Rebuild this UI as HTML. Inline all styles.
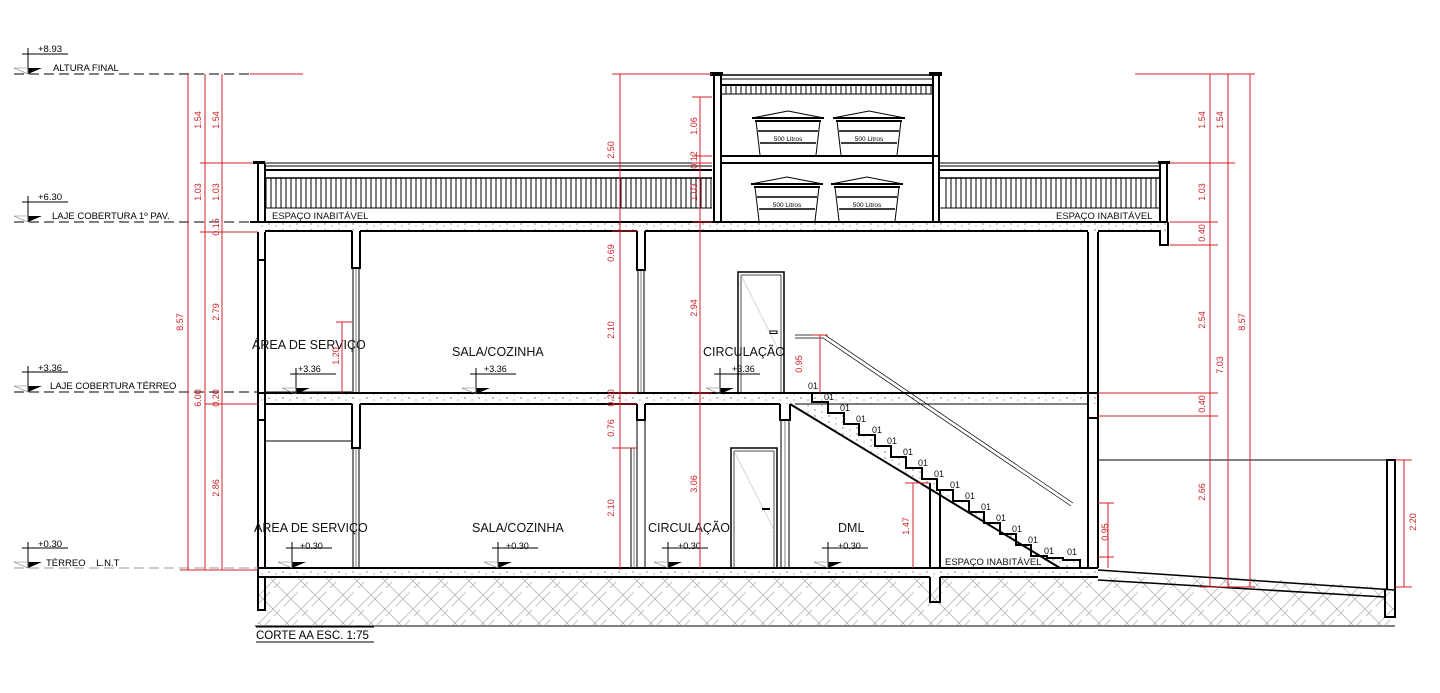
<!DOCTYPE html>
<html><head><meta charset="utf-8"><style>
html,body{margin:0;padding:0;background:#fff;}
svg{display:block;font-family:"Liberation Sans",sans-serif;}
.r{fill:#d0202a;font-size:9px;}
.rl{stroke:#d0202a;stroke-width:1;fill:none;}
.k{stroke:#000;fill:none;}
.t{font-size:12.5px;fill:#111;}
.s{font-size:9px;fill:#111;}
</style></head><body>
<svg width="1440" height="693" viewBox="0 0 1440 693" xmlns="http://www.w3.org/2000/svg">
<defs>
<pattern id="vh" width="5" height="40" patternUnits="userSpaceOnUse"><line x1="1" y1="0" x2="1" y2="40" stroke="#000" stroke-width="1"/></pattern>
<pattern id="gh" width="28" height="28" patternUnits="userSpaceOnUse">
<path d="M0 14 L14 0 M4 18 L18 4 M14 28 L28 14 M18 32 L32 18 M14 14 L28 28 M0 0 L14 14" stroke="#aaa" stroke-width="0.7" fill="none"/></pattern>
<pattern id="dots" width="14" height="6" patternUnits="userSpaceOnUse"><circle cx="3" cy="2" r="0.6" fill="#333"/><circle cx="10" cy="4" r="0.5" fill="#333"/></pattern>
</defs>

<!-- ground -->
<rect x="258" y="577" width="1137" height="48" fill="url(#gh)"/>
<polygon points="1098,568 1398,588 1398,560 1098,560" fill="#fff"/>
<line x1="255" y1="626" x2="1395" y2="626" stroke="#000"/>
<!-- ground slab -->
<rect x="258" y="568" width="840" height="9" fill="url(#dots)"/>
<line x1="258" y1="568" x2="1098" y2="568" stroke="#000" stroke-width="2"/>
<line x1="258" y1="577" x2="930" y2="577" stroke="#000" stroke-width="2"/>
<line x1="940" y1="577" x2="1098" y2="577" stroke="#000" stroke-width="2"/>
<path d="M258 568 V610 H265 V577" class="k" stroke-width="2"/>
<path d="M930 577 V602 H940 V577" class="k" stroke-width="2"/>
<!-- ramp -->
<path d="M1098 570 L1395 590 M1098 580 L1385 597" class="k" stroke-width="1.5"/>
<path d="M1385 590 V617 H1395 V460 H1387 V590" class="k" stroke-width="2"/>
<line x1="1098" y1="460" x2="1395" y2="460" stroke="#000"/>

<!-- exterior left wall -->
<path d="M258 232 V568 M265 232 V568" class="k" stroke-width="2"/>
<!-- right wall -->
<path d="M1088 232 V568 M1098 232 V568" class="k" stroke-width="2"/>

<!-- roof slab -->
<rect x="258" y="222" width="910" height="9" fill="url(#dots)"/>
<line x1="250" y1="222" x2="1168" y2="222" stroke="#000" stroke-width="2"/>
<line x1="265" y1="231" x2="352" y2="231" stroke="#000" stroke-width="2"/>
<line x1="360" y1="231" x2="637" y2="231" stroke="#000" stroke-width="2"/>
<line x1="645" y1="231" x2="1088" y2="231" stroke="#000" stroke-width="2"/>
<path d="M1098 231 H1160 V245 H1168 V222" class="k" stroke-width="2"/>
<!-- beams upper -->
<path d="M352 231 V268 H360 V231 M637 231 V270 H645 V231" class="k" stroke-width="2"/>
<path d="M353 268 V393 M359 268 V393 M638 270 V393 M644 270 V393" stroke="#000" stroke-width="1"/>
<path d="M356 268 V393 M641 270 V393" stroke="#000" stroke-width="0.5"/>
<path d="M258 232 V260 H265" class="k" stroke-width="2"/>
<!-- middle slab -->
<rect x="258" y="393" width="840" height="11" fill="url(#dots)"/>
<line x1="258" y1="393" x2="1098" y2="393" stroke="#000" stroke-width="2"/>
<line x1="265" y1="404" x2="352" y2="404" stroke="#000" stroke-width="2"/>
<line x1="360" y1="404" x2="637" y2="404" stroke="#000" stroke-width="2"/>
<line x1="645" y1="404" x2="780" y2="404" stroke="#000" stroke-width="2"/>
<line x1="795" y1="404" x2="1088" y2="404" stroke="#000" stroke-width="1"/>
<path d="M352 404 V448 H360 V404 M637 404 V420 H645 V404 M780 404 V420 H790 V404" class="k" stroke-width="2"/>
<path d="M258 404 V420 H265" class="k" stroke-width="2"/>
<path d="M353 448 V568 M359 448 V568 M631 448 V568 M637 420 V568 M645 420 V568 M781 420 V568 M789 420 V568" stroke="#000" stroke-width="1"/>
<path d="M356 448 V568 M634 448 V568 M785 420 V568" stroke="#000" stroke-width="0.5"/>
<line x1="265" y1="441" x2="352" y2="441" stroke="#000"/>
<line x1="265" y1="392" x2="352" y2="392" stroke="#000"/>
<path d="M1088 393 V418 H1098" class="k" stroke-width="2"/>

<!-- doors -->
<rect x="738" y="272" width="46" height="121" class="k" stroke-width="1.5"/>
<rect x="741" y="275" width="40" height="118" class="k" stroke-width="0.7"/>
<line x1="741" y1="275" x2="781" y2="355" stroke="#bbb" stroke-width="0.6"/>
<rect x="770" y="331" width="7" height="2.5" class="k"/>
<rect x="731" y="448" width="46" height="120" class="k" stroke-width="1.5"/>
<rect x="734" y="451" width="40" height="117" class="k" stroke-width="0.7"/>
<line x1="734" y1="451" x2="774" y2="530" stroke="#bbb" stroke-width="0.6"/>
<line x1="762" y1="509" x2="770" y2="509" stroke="#000" stroke-width="2"/>

<!-- stair -->
<polygon points="790,404 795,393 812,393 812,402 828,402 828,413 844,413 844,424 859,424 859,435 875,435 875,446 891,446 891,457 906,457 906,468 922,468 922,479 937,479 937,490 953,490 953,501 969,501 969,512 984,512 984,523 1000,523 1000,534 1016,534 1016,545 1031,545 1031,556 1047,556 1047,558 1063,558 1063,560 1080,560 1080,568 1060,568" fill="url(#dots)" stroke="none"/>
<path d="M797 393 H812 V402 H828 V413 H844 V424 H859 V435 H875 V446 H891 V457 H906 V468 H922 V479 H937 V490 H953 V501 H969 V512 H984 V523 H1000 V534 H1016 V545 H1031 V556 H1047 V558 H1063 V560 H1080 V568" class="k" stroke-width="2"/>
<line x1="790" y1="404" x2="1060" y2="568" stroke="#000" stroke-width="2"/>
<path d="M795 335 H825 L1073 503 M795 338 H823 L1071 506" class="k" stroke-width="0.7"/>
<g class="s">
<text x="808" y="389">01</text><text x="824" y="400">01</text><text x="840" y="411">01</text><text x="856" y="422">01</text><text x="872" y="433">01</text><text x="887" y="444">01</text><text x="903" y="455">01</text><text x="918" y="466">01</text><text x="934" y="477">01</text><text x="950" y="488">01</text><text x="965" y="499">01</text><text x="981" y="510">01</text><text x="996" y="521">01</text><text x="1012" y="532">01</text><text x="1028" y="543">01</text><text x="1044" y="554">01</text><text x="1067" y="555">01</text>
</g>
<path d="M930 483 V568 M940 490 V568" class="k" stroke-width="2"/>

<!-- parapets -->
<g>
<rect x="253" y="161" width="12" height="3" fill="#000"/>
<path d="M258 164 V222 M265 164 V222" class="k" stroke-width="2"/>
<line x1="258" y1="163" x2="712" y2="163" stroke="#000"/>
<line x1="265" y1="166" x2="712" y2="166" stroke="#000"/>
<line x1="265" y1="170" x2="712" y2="170" stroke="#000" stroke-width="2"/>
<line x1="265" y1="178" x2="712" y2="178" stroke="#000" stroke-width="1.5"/>
<rect x="265" y="178" width="447" height="30" fill="url(#vh)"/>
<line x1="265" y1="208" x2="712" y2="208" stroke="#000"/>
<rect x="1158" y="161" width="12" height="3" fill="#000"/>
<path d="M1160 164 V222 M1167 164 V222" class="k" stroke-width="2"/>
<line x1="940" y1="163" x2="1160" y2="163" stroke="#000"/>
<line x1="940" y1="166" x2="1160" y2="166" stroke="#000"/>
<line x1="940" y1="170" x2="1160" y2="170" stroke="#000" stroke-width="2"/>
<line x1="940" y1="178" x2="1160" y2="178" stroke="#000" stroke-width="1.5"/>
<rect x="942" y="178" width="218" height="30" fill="url(#vh)"/>
<line x1="940" y1="208" x2="1160" y2="208" stroke="#000"/>
</g>
<text x="272" y="219" class="s" style="font-size:9.5px">ESPAÇO INABITÁVEL</text>
<text x="1056" y="219" class="s" style="font-size:9.5px">ESPAÇO INABITÁVEL</text>
<text x="945" y="565" class="s" style="font-size:9.5px">ESPAÇO INABITÁVEL</text>

<!-- water tower -->
<rect x="710" y="72" width="13" height="4" fill="#000"/>
<rect x="929" y="72" width="13" height="4" fill="#000"/>
<path d="M714 76 V222 M721 76 V222 M933 76 V222 M939 76 V222" class="k" stroke-width="2"/>
<line x1="721" y1="75" x2="933" y2="75" stroke="#000" stroke-width="1.5"/>
<line x1="721" y1="79" x2="933" y2="79" stroke="#000"/>
<line x1="721" y1="85" x2="933" y2="85" stroke="#000" stroke-width="2"/>
<rect x="723" y="86" width="210" height="8" fill="url(#vh)"/>
<line x1="721" y1="94" x2="933" y2="94" stroke="#000"/>
<line x1="721" y1="156" x2="939" y2="156" stroke="#000" stroke-width="2"/>
<line x1="721" y1="163" x2="933" y2="163" stroke="#000" stroke-width="2"/>
<g id="tank">
<path d="M752 118 L788 111 L824 118 Z" fill="none" stroke="#000"/>
<line x1="752" y1="118" x2="824" y2="118" stroke="#000" stroke-width="2"/>
<line x1="755" y1="121" x2="821" y2="121" stroke="#000" stroke-width="2"/>
<path d="M756 121 L760 155 M820 121 L816 155" class="k"/>
<line x1="758" y1="131" x2="818" y2="131" stroke="#000" stroke-width="1.5"/>
<line x1="760" y1="143" x2="816" y2="143" stroke="#000" stroke-width="1.5"/>
<text x="788" y="141" text-anchor="middle" style="font-size:6.5px">500 Litros</text>
</g>
<use href="#tank" x="81" y="0"/>
<use href="#tank" x="-1" y="66"/>
<use href="#tank" x="79" y="66"/>

<!-- level markers -->
<g font-size="9.5">
<line x1="14" y1="74" x2="255" y2="74" stroke="#000" stroke-dasharray="10,5"/>
<line x1="250" y1="74" x2="303" y2="74" stroke="#d0202a"/>
<line x1="14" y1="222" x2="258" y2="222" stroke="#000" stroke-dasharray="10,5"/>
<line x1="14" y1="392" x2="258" y2="392" stroke="#000" stroke-dasharray="10,5"/>
<line x1="14" y1="568" x2="258" y2="568" stroke="#999" stroke-dasharray="10,5"/>
<g id="lv"><line x1="22" y1="54" x2="68" y2="54" stroke="#000"/><line x1="28" y1="48" x2="28" y2="74" stroke="#000"/><polygon points="28,68 42,68 28,74" fill="#000"/><path d="M14 68 L28 68 L28 74 Z" fill="none" stroke="#777" stroke-width="0.6"/></g>
<use href="#lv" y="148"/><use href="#lv" y="318"/><use href="#lv" y="494"/>
<text x="38" y="52">+8.93</text><text x="53" y="71">ALTURA FINAL</text>
<text x="38" y="200">+6.30</text><text x="52" y="219">LAJE COBERTURA 1º PAV.</text>
<text x="38" y="371">+3.36</text><text x="50" y="389">LAJE COBERTURA TÉRREO</text>
<text x="38" y="547">+0.30</text><text x="46" y="566">TÉRREO&#160;&#160;&#160;&#160;L.N.T</text>
</g>
<!-- room level markers -->
<g font-size="9">
<use href="#lv" x="268" y="320"/><text x="298" y="372">+3.36</text>
<use href="#lv" x="448" y="320"/><text x="484" y="372">+3.36</text>
<use href="#lv" x="692" y="320"/><text x="732" y="372">+3.36</text>
<use href="#lv" x="264" y="494"/><text x="300" y="549">+0.30</text>
<use href="#lv" x="470" y="494"/><text x="506" y="549">+0.30</text>
<use href="#lv" x="640" y="494"/><text x="678" y="549">+0.30</text>
<use href="#lv" x="800" y="494"/><text x="838" y="549">+0.30</text>
</g>
<g class="t">
<text x="252" y="349">ÁREA DE SERVIÇO</text>
<text x="452" y="356">SALA/COZINHA</text>
<text x="703" y="356">CIRCULAÇÃO</text>
<text x="254" y="532">ÁREA DE SERVIÇO</text>
<text x="472" y="532">SALA/COZINHA</text>
<text x="648" y="532">CIRCULAÇÃO</text>
<text x="838" y="532">DML</text>
</g>
<text x="256" y="639" style="font-size:11.5px">CORTE AA ESC. 1:75</text>
<line x1="256" y1="642" x2="374" y2="642" stroke="#000"/>
<line x1="256" y1="627" x2="374" y2="627" stroke="#000"/>

<!-- red dimensions -->
<g class="rl">
<path d="M188 74 V570 M205 74 V570 M222 74 V570"/>
<path d="M200 163 H253 M200 232 H258 M205 404 H258 M180 570 H258"/>
<path d="M620 74 V570 M700 97 V568 M612 74 H712 M692 97 H712 M612 231 H637 M612 393 H637 M612 404 H637 M612 448 H637 M692 156 H712 M692 163 H712 M692 222 H712 M692 393 H712"/>
<path d="M342 322 V393 M336 322 H352"/>
<path d="M913 483 V568 M905 483 H930"/>
<path d="M820 335 V393 M812 335 H828"/>
<path d="M1108 503 V568 M1098 503 H1114 M1098 557 H1114"/>
<path d="M1210 74 V587 M1228 74 V587 M1250 74 V587 M1135 74 H1255 M1170 163 H1235 M1170 222 H1218 M1170 245 H1218 M1098 393 H1218 M1098 416 H1218 M1200 587 H1255 M1404 460 V587 M1395 460 H1412 M1395 587 H1412"/>
</g>
<g class="r">
<text transform="translate(201,120) rotate(-90)" text-anchor="middle">1.54</text>
<text transform="translate(219,120) rotate(-90)" text-anchor="middle">1.54</text>
<text transform="translate(201,192) rotate(-90)" text-anchor="middle">1.03</text>
<text transform="translate(219,192) rotate(-90)" text-anchor="middle">1.03</text>
<text transform="translate(219,227) rotate(-90)" text-anchor="middle">0.15</text>
<text transform="translate(183,322) rotate(-90)" text-anchor="middle">8.57</text>
<text transform="translate(219,312) rotate(-90)" text-anchor="middle">2.79</text>
<text transform="translate(201,398) rotate(-90)" text-anchor="middle">6.00</text>
<text transform="translate(219,398) rotate(-90)" text-anchor="middle">0.20</text>
<text transform="translate(219,488) rotate(-90)" text-anchor="middle">2.86</text>
<text transform="translate(339,356) rotate(-90)" text-anchor="middle">1.20</text>
<text transform="translate(614,150) rotate(-90)" text-anchor="middle">2.50</text>
<text transform="translate(614,253) rotate(-90)" text-anchor="middle">0.69</text>
<text transform="translate(614,330) rotate(-90)" text-anchor="middle">2.10</text>
<text transform="translate(614,398) rotate(-90)" text-anchor="middle">0.20</text>
<text transform="translate(614,428) rotate(-90)" text-anchor="middle">0.76</text>
<text transform="translate(614,508) rotate(-90)" text-anchor="middle">2.10</text>
<text transform="translate(697,126) rotate(-90)" text-anchor="middle">1.06</text>
<text transform="translate(697,160) rotate(-90)" text-anchor="middle">0.12</text>
<text transform="translate(697,192) rotate(-90)" text-anchor="middle">1.03</text>
<text transform="translate(697,308) rotate(-90)" text-anchor="middle">2.94</text>
<text transform="translate(697,484) rotate(-90)" text-anchor="middle">3.06</text>
<text transform="translate(802,364) rotate(-90)" text-anchor="middle">0.95</text>
<text transform="translate(909,526) rotate(-90)" text-anchor="middle">1.47</text>
<text transform="translate(1108,532) rotate(-90)" text-anchor="middle">0.95</text>
<text transform="translate(1205,120) rotate(-90)" text-anchor="middle">1.54</text>
<text transform="translate(1223,120) rotate(-90)" text-anchor="middle">1.54</text>
<text transform="translate(1205,192) rotate(-90)" text-anchor="middle">1.03</text>
<text transform="translate(1205,233) rotate(-90)" text-anchor="middle">0.40</text>
<text transform="translate(1205,320) rotate(-90)" text-anchor="middle">2.54</text>
<text transform="translate(1223,365) rotate(-90)" text-anchor="middle">7.03</text>
<text transform="translate(1245,322) rotate(-90)" text-anchor="middle">8.57</text>
<text transform="translate(1205,404) rotate(-90)" text-anchor="middle">0.40</text>
<text transform="translate(1205,492) rotate(-90)" text-anchor="middle">2.66</text>
<text transform="translate(1416,522) rotate(-90)" text-anchor="middle">2.20</text>
</g>
</svg>
</body></html>
